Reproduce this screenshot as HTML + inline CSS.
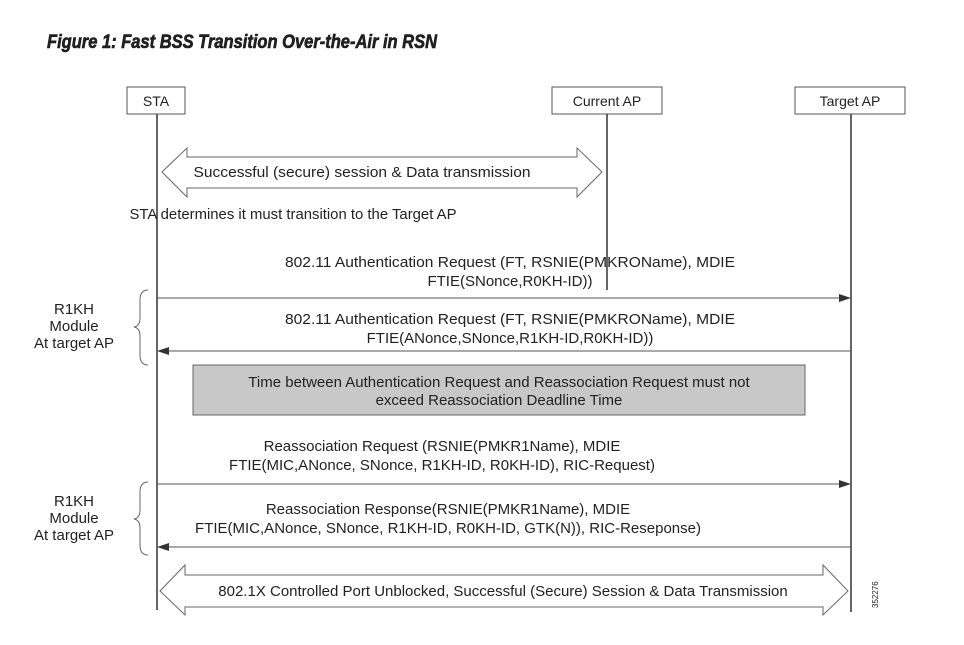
<!DOCTYPE html>
<html><head><meta charset="utf-8"><style>
body{margin:0;background:#fff;}
svg text{font-family:"Liberation Sans",sans-serif;fill:#222;}
</style></head><body>
<svg width="964" height="640" viewBox="0 0 964 640" xmlns="http://www.w3.org/2000/svg">
<text x="47" y="48" font-size="19" font-weight="bold" font-style="italic" fill="#111" stroke="#111" stroke-width="0.6" textLength="390" lengthAdjust="spacingAndGlyphs">Figure 1: Fast BSS Transition Over-the-Air in RSN</text>
<g stroke="#555" fill="#fff" stroke-width="1">
<rect x="127" y="87" width="58" height="27"/>
<rect x="552" y="87" width="110" height="27"/>
<rect x="795" y="87" width="110" height="27"/>
</g>
<g font-size="14" text-anchor="middle">
<text x="156" y="106">STA</text>
<text x="607" y="106">Current AP</text>
<text x="850" y="106">Target AP</text>
</g>
<g stroke="#333" stroke-width="1.5">
<line x1="157" y1="114" x2="157" y2="610"/>
<line x1="607" y1="114" x2="607" y2="290"/>
<line x1="851" y1="114" x2="851" y2="612"/>
</g>
<polygon points="162,172 187,148 187,157 577,157 577,148 602,172 577,197 577,188 187,188 187,197" fill="#fff" stroke="#666"/>
<g font-size="15" text-anchor="middle">
<text x="362" y="177" textLength="337" lengthAdjust="spacingAndGlyphs">Successful (secure) session &amp; Data transmission</text>
<text x="293" y="219" textLength="327" lengthAdjust="spacingAndGlyphs">STA determines it must transition to the Target AP</text>
<text x="510" y="267" textLength="450" lengthAdjust="spacingAndGlyphs">802.11 Authentication Request (FT, RSNIE(PMKROName), MDIE</text>
<text x="510" y="286">FTIE(SNonce,R0KH-ID))</text>
<text x="510" y="324" textLength="450" lengthAdjust="spacingAndGlyphs">802.11 Authentication Request (FT, RSNIE(PMKROName), MDIE</text>
<text x="510" y="343">FTIE(ANonce,SNonce,R1KH-ID,R0KH-ID))</text>
<text x="442" y="451">Reassociation Request (RSNIE(PMKR1Name), MDIE</text>
<text x="442" y="470">FTIE(MIC,ANonce, SNonce, R1KH-ID, R0KH-ID), RIC-Request)</text>
<text x="448" y="514">Reassociation Response(RSNIE(PMKR1Name), MDIE</text>
<text x="448" y="533">FTIE(MIC,ANonce, SNonce, R1KH-ID, R0KH-ID, GTK(N)), RIC-Reseponse)</text>
<text x="74" y="314">R1KH</text><text x="74" y="331">Module</text><text x="74" y="348">At target AP</text>
<text x="74" y="506">R1KH</text><text x="74" y="523">Module</text><text x="74" y="540">At target AP</text>
</g>
<g stroke="#555" stroke-width="1">
<line x1="157" y1="298" x2="845" y2="298"/>
<line x1="163" y1="351" x2="851" y2="351"/>
<line x1="157" y1="484" x2="845" y2="484"/>
<line x1="163" y1="547" x2="851" y2="547"/>
</g>
<g fill="#333">
<polygon points="851,298 839,294 839,302"/>
<polygon points="157,351 169,347 169,355"/>
<polygon points="851,484 839,480 839,488"/>
<polygon points="157,547 169,543 169,551"/>
</g>
<g fill="none" stroke="#666" stroke-width="1">
<path d="M148,290 Q140,290 140,300 L140,318 Q140,326 134,327 Q140,328 140,336 L140,355 Q140,365 148,365"/>
<path d="M148,482 Q140,482 140,492 L140,510 Q140,518 134,519 Q140,520 140,528 L140,545 Q140,555 148,555"/>
</g>
<rect x="193" y="365" width="612" height="50" fill="#c8c8c8" stroke="#666"/>
<text x="499" y="387" font-size="15" text-anchor="middle">Time between Authentication Request and Reassociation Request must not</text>
<text x="499" y="405" font-size="15" text-anchor="middle">exceed Reassociation Deadline Time</text>
<polygon points="160,591 185,565 185,575 823,575 823,565 848,591 823,615 823,607 185,607 185,615" fill="#fff" stroke="#666"/>
<text x="503" y="596" font-size="15" text-anchor="middle">802.1X Controlled Port Unblocked, Successful (Secure) Session &amp; Data Transmission</text>
<text x="0" y="0" font-size="8" transform="translate(878,608) rotate(-90)">352276</text>
</svg>
</body></html>
